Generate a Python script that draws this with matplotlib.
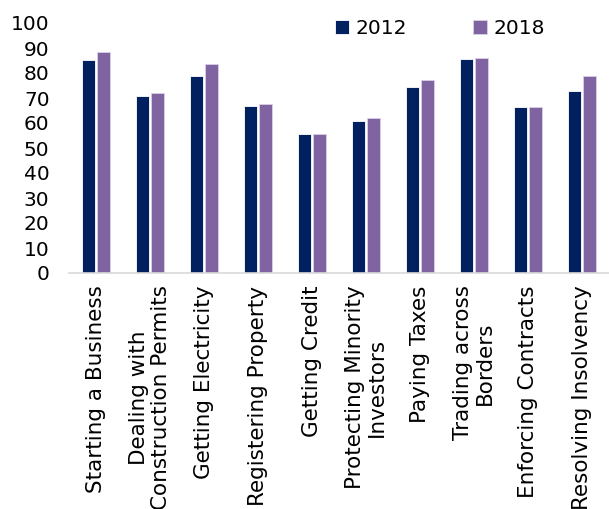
import numpy as np
import matplotlib.pyplot as plt

categories = ['Starting a Business', 'Dealing with\nConstruction Permits', 'Getting Electricity',
              'Registering Property', 'Getting Credit', 'Protecting Minority\nInvestors',
              'Paying Taxes', 'Trading across\nBorders', 'Enforcing Contracts', 'Resolving Insolvency']
vals_2012 = [85.2, 70.9, 78.8, 66.9, 55.5, 60.9, 74.3, 85.6, 66.3, 72.7]
vals_2018 = [88.5, 72.1, 83.5, 67.7, 55.6, 62.1, 77.3, 86.1, 66.3, 78.7]
yticks = list(range(0, 101, 10))

plt.rcParams['font.family'] = ['DejaVu Sans']

fig = plt.figure(figsize=(6.09, 5.09), dpi=100)
ax = fig.add_axes([69 / 609, 1 - 273 / 509, 540 / 609, 250 / 509])

x = np.arange(len(categories))
w = 0.24
ax.bar(x - w / 2 - 0.015, vals_2012, w, color='#002060', edgecolor='white', linewidth=0.6, label='2012')
ax.bar(x + w / 2 + 0.015, vals_2018, w, color='#8064A2', edgecolor='#d9d0e6', linewidth=0.6, label='2018')

ax.set_ylim(0, 100)
ax.set_xlim(-0.5, len(categories) - 0.5)
ax.set_yticks(yticks)
ax.set_xticks(x)
ax.set_xticklabels(categories, rotation=90, ha='center', va='top', multialignment='center',
                   fontsize=15.5, linespacing=1.12)
ax.tick_params(axis='both', length=0, colors='black')
ax.tick_params(axis='y', pad=14, labelsize=14.5)
ax.tick_params(axis='x', pad=9)
for s in ['top', 'right', 'left']:
    ax.spines[s].set_visible(False)
ax.spines['bottom'].set_color('#d9d9d9')
ax.spines['bottom'].set_linewidth(1.2)

ax.legend(ncol=2, frameon=False, fontsize=14.5, loc='upper right', bbox_to_anchor=(0.915, 1.09),
          handlelength=0.7, handleheight=0.7, handletextpad=0.3, columnspacing=3.3)

fig.savefig('out.png', dpi=100)
